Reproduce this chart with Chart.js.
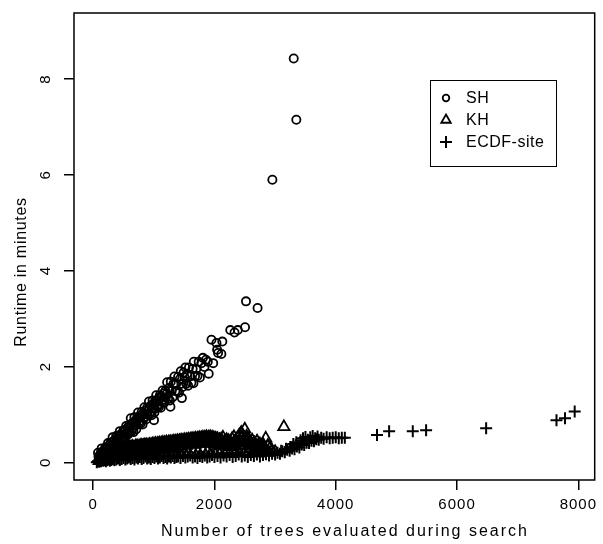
<!DOCTYPE html>
<html>
<head>
<meta charset="utf-8">
<script src="https://cdn.jsdelivr.net/npm/chart.js@4.4.1/dist/chart.umd.min.js"></script>
<style>
  html, body { margin: 0; padding: 0; background: #fff; }
  #wrap { width: 603px; height: 544px; }
</style>
</head>
<body>
<div id="wrap"><canvas id="myChart" width="603" height="544"></canvas></div>
<script>
const xTicks = [0, 2000, 4000, 6000, 8000];
const yTicks = [0, 2, 4, 6, 8];
const seriesNames = ['SH', 'KH', 'ECDF-site'];
const xTitle = 'Number of trees evaluated during search';
const yTitle = 'Runtime in minutes';

// [trees evaluated, runtime in minutes]
const shPoints = [
  [80,0.20],[95,0.09],[110,0.02],[125,0.20],[140,0.29],[155,0.12],[170,0.21],[185,0.13],[200,0.31],[215,0.12],
  [230,0.30],[245,0.40],[260,0.26],[275,0.22],[290,0.41],[305,0.36],[320,0.52],[335,0.32],[350,0.46],[365,0.31],
  [380,0.55],[395,0.44],[410,0.37],[425,0.55],[440,0.65],[455,0.47],[470,0.57],[485,0.48],[500,0.67],[515,0.48],
  [530,0.66],[545,0.76],[560,0.61],[575,0.58],[590,0.76],[605,0.71],[620,0.92],[635,0.65],[650,0.82],[665,0.63],
  [680,0.94],[695,0.79],[710,0.69],[725,0.92],[740,1.04],[755,0.80],[770,0.93],[785,0.81],[800,1.05],[815,0.79],
  [830,1.02],[845,1.15],[860,0.95],[875,0.90],[890,1.14],[905,1.07],[920,1.27],[935,1.00],[950,1.18],[965,0.98],
  [980,1.29],[995,1.14],[1010,1.04],[1025,1.27],[1040,1.40],[1055,1.16],[1070,1.28],[1085,1.16],[1100,1.40],[1115,1.14],
  [1130,1.37],[1145,1.50],[1160,1.31],[1175,1.25],[1190,1.49],[1205,1.42],[1220,1.67],[1235,1.33],[1250,1.55],[1265,1.29],
  [1280,1.68],[1295,1.49],[1310,1.36],[1325,1.64],[1340,1.79],[1355,1.49],[1370,1.64],[1385,1.48],[1400,1.78],[1415,1.45],
  [1430,1.74],[1445,1.90],[1460,1.64],[1475,1.57],[1490,1.87],[1505,1.78],[1520,1.98],[1535,1.64],[1550,1.85],[1565,1.60],
  [1580,1.98],[1600,1.79],[1620,1.66],[1640,1.95],[1660,2.10],[1680,1.80],[1700,1.95],[1720,1.80],[1740,2.10],[1760,1.77],
  [1785,2.07],[1810,2.18],[1835,1.99],[1860,2.14],[1890,2.10],
  [88,0.12],[118,0.08],[148,0.22],[178,0.15],[208,0.28],[238,0.22],[268,0.36],[298,0.30],[328,0.43],[358,0.37],
  [388,0.50],[418,0.44],[448,0.58],[478,0.50],[508,0.64],[538,0.56],[568,0.72],[598,0.64],[628,0.80],[658,0.72],
  [688,0.86],[718,0.78],[748,0.95],[778,0.86],[808,1.00],[838,0.92],[868,1.08],[898,0.99],[928,1.15],[958,1.06],
  [988,1.22],[1018,1.12],[1048,1.30],[1078,1.20],[1108,1.36],[1138,1.26],[1168,1.44],[1198,1.35],
  [1003,0.88],[1274,1.16],[1463,1.34],[1654,1.65],[1905,1.85],[1951,2.56],[1979,2.07],[2033,2.49],[2044,2.35],[2060,2.28],
  [2114,2.26],[2130,2.52],[2261,2.76],[2331,2.71],[2385,2.76],[2504,2.82],[2520,3.36],[2711,3.22],[2955,5.90],[3307,8.43],
  [3350,7.15]
];

const khPoints = [
  [100,0.03],[102,0.10],[125,0.11],[127,0.05],[150,0.07],[152,0.13],[175,0.14],[177,0.06],[200,0.09],[202,0.15],
  [225,0.17],[227,0.08],[250,0.10],[252,0.18],[275,0.19],[277,0.09],[300,0.12],[302,0.20],[325,0.21],[327,0.10],
  [350,0.13],[352,0.22],[375,0.23],[377,0.12],[400,0.15],[402,0.25],[425,0.26],[427,0.13],[450,0.17],[452,0.27],
  [475,0.28],[477,0.15],[500,0.18],[502,0.30],[525,0.30],[527,0.16],[550,0.20],[552,0.31],[575,0.31],[577,0.18],
  [600,0.21],[602,0.32],[625,0.32],[627,0.19],[650,0.23],[652,0.33],[675,0.31],[677,0.20],[700,0.24],[702,0.34],
  [725,0.34],[727,0.21],[750,0.25],[752,0.33],[775,0.35],[777,0.22],[800,0.26],[802,0.35],[825,0.35],[827,0.21],
  [850,0.24],[852,0.36],[875,0.36],[877,0.27],[900,0.29],[902,0.35],[925,0.37],[927,0.23],[950,0.27],[952,0.36],
  [975,0.38],[977,0.30],[1000,0.25],[1002,0.38],[1030,0.39],[1032,0.29],[1060,0.32],[1062,0.39],[1090,0.40],[1092,0.26],
  [1120,0.31],[1122,0.40],[1150,0.41],[1152,0.34],[1180,0.28],[1182,0.41],[1210,0.42],[1212,0.33],[1240,0.36],[1242,0.42],
  [1270,0.43],[1272,0.30],[1300,0.35],[1302,0.43],[1330,0.44],[1332,0.38],[1360,0.32],[1362,0.44],[1390,0.45],[1392,0.37],
  [1420,0.40],[1422,0.45],[1450,0.46],[1452,0.33],[1480,0.39],[1482,0.46],[1510,0.47],[1512,0.42],[1540,0.35],[1542,0.47],
  [1570,0.48],[1572,0.41],[1600,0.44],[1602,0.48],[1630,0.49],[1632,0.37],[1660,0.42],[1662,0.49],[1690,0.50],[1692,0.46],
  [1720,0.39],[1722,0.50],[1750,0.51],[1752,0.45],[1780,0.47],[1782,0.51],[1810,0.52],[1812,0.41],[1840,0.46],[1842,0.52],
  [1870,0.53],[1872,0.48],[1900,0.43],[1902,0.52],[1930,0.53],[1932,0.47],[1960,0.40],[1962,0.52],[1990,0.51],[1992,0.45],
  [2020,0.38],[2022,0.50],[2050,0.49],[2052,0.42],[2080,0.36],[2082,0.47],[2110,0.48],[2112,0.40],[2140,0.52],[2142,0.37],
  [2170,0.44],[2172,0.34],[2200,0.47],[2202,0.39],[2230,0.35],[2232,0.45],[2260,0.42],[2262,0.32],[2290,0.49],[2292,0.38],
  [2320,0.37],[2322,0.53],[2350,0.45],[2352,0.34],[2380,0.51],[2382,0.40],[2410,0.57],[2412,0.44],[2440,0.50],[2442,0.62],
  [2470,0.55],[2472,0.42],[2500,0.69],[2502,0.49],[2530,0.54],[2532,0.44],[2560,0.48],[2562,0.40],[2590,0.42],[2592,0.35],
  [2620,0.37],[2622,0.46],[2660,0.40],[2662,0.33],[2700,0.35],[2702,0.44],[2750,0.38],[2752,0.31],[2800,0.33],[2802,0.37],
  [2846,0.50],[2880,0.35],[2920,0.30],[3145,0.74],
  [610,0.15],[650,0.27],[690,0.17],[730,0.28],[770,0.16],[810,0.30],[850,0.18],[890,0.31],[930,0.17],[970,0.32],
  [1010,0.19],[1050,0.33],[1090,0.18],[1130,0.34],[1170,0.20],[1210,0.35],[1250,0.19],[1290,0.36],[1330,0.21],[1370,0.37],
  [1410,0.20],[1450,0.38],[1490,0.22],[1530,0.39],[1570,0.21],[1610,0.40],[1650,0.23],[1690,0.38],[1730,0.22],[1770,0.41],
  [1810,0.24],[1850,0.39],[1890,0.23],[1930,0.40],[1970,0.25],[2010,0.37],[2050,0.24],[2090,0.35],[2130,0.26],[2170,0.40],
  [2210,0.25],[2250,0.37],[2290,0.27],[2330,0.42],[2370,0.26],[2410,0.36],[2450,0.28],[2490,0.40],[2530,0.27],[2570,0.34],
  [2610,0.29],[2650,0.25],[2700,0.28],[2750,0.24],[2800,0.27],[2850,0.22],[2900,0.20],[2950,0.24],[3000,0.22]
];

const ecdfPoints = [
  [60,0.00],[80,0.02],[100,0.01],[115,0.03],[130,0.02],[150,0.04],[170,0.03],[190,0.05],[210,0.02],[230,0.04],
  [250,0.06],[275,0.03],[300,0.05],[325,0.07],[350,0.04],[380,0.06],[410,0.08],[440,0.05],[470,0.07],[500,0.09],
  [530,0.06],[560,0.08],[590,0.10],[620,0.07],[650,0.09],[680,0.06],[710,0.10],[740,0.08],[770,0.11],[800,0.07],
  [830,0.09],[860,0.12],[890,0.08],[920,0.10],[950,0.07],[980,0.11],[1010,0.09],[1040,0.12],[1070,0.08],[1100,0.10],
  [1130,0.13],[1160,0.09],[1190,0.11],[1220,0.08],[1250,0.12],[1280,0.10],[1310,0.13],[1340,0.09],[1370,0.11],[1400,0.12],
  [1440,0.09],[1480,0.13],[1520,0.10],[1560,0.12],[1600,0.14],[1640,0.10],[1680,0.12],[1720,0.09],[1760,0.13],[1800,0.11],
  [1840,0.14],[1880,0.10],[1920,0.12],[1960,0.15],[2000,0.11],[2050,0.13],[2100,0.10],[2150,0.14],[2200,0.12],[2250,0.15],
  [2300,0.11],[2350,0.13],[2400,0.16],[2450,0.12],[2500,0.14],[2550,0.11],[2600,0.15],[2650,0.13],[2700,0.16],[2750,0.12],
  [2800,0.15],[2850,0.17],[2900,0.14],[2950,0.18],[3000,0.16],[3040,0.20],[3080,0.18],[3100,0.24],[3120,0.23],[3160,0.21],
  [3180,0.28],[3200,0.26],[3240,0.24],[3250,0.32],[3280,0.29],[3300,0.38],[3320,0.27],[3350,0.42],[3360,0.33],[3400,0.31],
  [3420,0.46],[3440,0.37],[3460,0.50],[3480,0.36],[3500,0.53],[3520,0.41],[3540,0.47],[3560,0.40],[3580,0.52],[3600,0.45],
  [3620,0.55],[3640,0.44],[3660,0.50],[3680,0.48],[3700,0.54],[3720,0.47],[3760,0.51],[3800,0.49],[3850,0.52],[3900,0.50],
  [3950,0.51],[4000,0.52],[4050,0.50],[4100,0.51],[4150,0.51],[4680,0.57],[4880,0.65],[5270,0.65],[5490,0.67],[6480,0.71],
  [7640,0.88],[7780,0.92],[7940,1.06]
];

const FONT = '"Liberation Sans", Arial, Helvetica, sans-serif';

const pointStyles = [
  { style: 'circle', radius: 4.1, legendRadius: 3.3, width: 1.8 },
  { style: 'triangle', radius: 6.5, legendRadius: 5.5, width: 1.8 },
  { style: 'cross', radius: 6, legendRadius: 6, width: 2 }
];

function toXY(arr) {
  return arr.map(p => ({ x: p[0], y: p[1] }));
}

// box, rotated y labels, axis titles, legend (R base graphics look)
const rDecor = {
  id: 'rDecor',
  beforeDraw(chart) {
    const ctx = chart.ctx;
    ctx.save();
    ctx.fillStyle = '#fff';
    ctx.fillRect(0, 0, chart.width, chart.height);
    ctx.restore();
    ctx.letterSpacing = '1px';
  },
  afterDraw(chart) {
    const ctx = chart.ctx;
    const a = chart.chartArea;
    const ys = chart.scales.y;
    ctx.save();
    ctx.strokeStyle = '#000';
    ctx.lineWidth = 1.5;
    ctx.strokeRect(a.left, a.top, a.right - a.left, a.bottom - a.top);

    ctx.fillStyle = '#000';
    ctx.font = '15px ' + FONT;
    ctx.letterSpacing = '1px';
    ctx.textAlign = 'center';
    ctx.textBaseline = 'middle';
    yTicks.forEach(v => {
      const py = ys.getPixelForValue(v);
      ctx.save();
      ctx.translate(46, py);
      ctx.rotate(-Math.PI / 2);
      ctx.fillText(String(v), 0, 0);
      ctx.restore();
    });

    ctx.font = '16px ' + FONT;
    ctx.letterSpacing = '2px';
    ctx.fillText(xTitle, 345, 532);

    ctx.save();
    ctx.letterSpacing = '0.7px';
    ctx.translate(22, 272);
    ctx.rotate(-Math.PI / 2);
    ctx.fillText(yTitle, 0, 0);
    ctx.restore();

    // legend
    ctx.lineWidth = 1;
    ctx.strokeRect(430.5, 80.5, 126, 86);
    ctx.textAlign = 'left';
    ctx.letterSpacing = '0.5px';
    const rowY = [98, 120, 142];
    seriesNames.forEach((name, i) => {
      const ps = pointStyles[i];
      ctx.save();
      ctx.strokeStyle = '#000';
      ctx.fillStyle = 'rgba(0,0,0,0)';
      ctx.lineWidth = ps.width;
      Chart.helpers.drawPoint(ctx, {
        pointStyle: ps.style, radius: ps.legendRadius, rotation: 0, borderWidth: ps.width
      }, 446, rowY[i]);
      ctx.restore();
      ctx.fillStyle = '#000';
      ctx.fillText(name, 466, rowY[i] + 1);
    });
    ctx.restore();
  }
};

const datasets = [shPoints, khPoints, ecdfPoints].map((pts, i) => ({
  label: seriesNames[i],
  data: toXY(pts),
  pointStyle: pointStyles[i].style,
  pointRadius: pointStyles[i].radius,
  pointHoverRadius: pointStyles[i].radius,
  pointBorderWidth: pointStyles[i].width,
  borderColor: '#000',
  backgroundColor: 'rgba(0,0,0,0)',
  showLine: false
}));

const ctx = document.getElementById('myChart').getContext('2d');
new Chart(ctx, {
  type: 'scatter',
  data: { datasets },
  options: {
    responsive: false,
    animation: false,
    devicePixelRatio: 1,
    layout: { padding: { top: 13, right: 4, left: 0, bottom: 0 } },
    plugins: { legend: { display: false }, tooltip: { enabled: false } },
    scales: {
      x: {
        type: 'linear',
        min: -316,
        max: 8270,
        afterBuildTicks: s => { s.ticks = xTicks.map(v => ({ value: v })); },
        afterFit: s => { s.height = 64; },
        border: { display: false },
        grid: { drawOnChartArea: false, drawTicks: true, tickLength: 10, color: '#000', lineWidth: 1.5 },
        ticks: {
          color: '#000', font: { family: FONT, size: 15 }, padding: 6,
          maxRotation: 0, autoSkip: false, callback: v => String(v)
        }
      },
      y: {
        type: 'linear',
        min: -0.37,
        max: 9.38,
        afterBuildTicks: s => { s.ticks = yTicks.map(v => ({ value: v })); },
        afterFit: s => { s.width = 74; },
        border: { display: false },
        grid: { drawOnChartArea: false, drawTicks: true, tickLength: 10, color: '#000', lineWidth: 1.5 },
        ticks: { display: false }
      }
    }
  },
  plugins: [rDecor]
});
</script>
</body>
</html>
